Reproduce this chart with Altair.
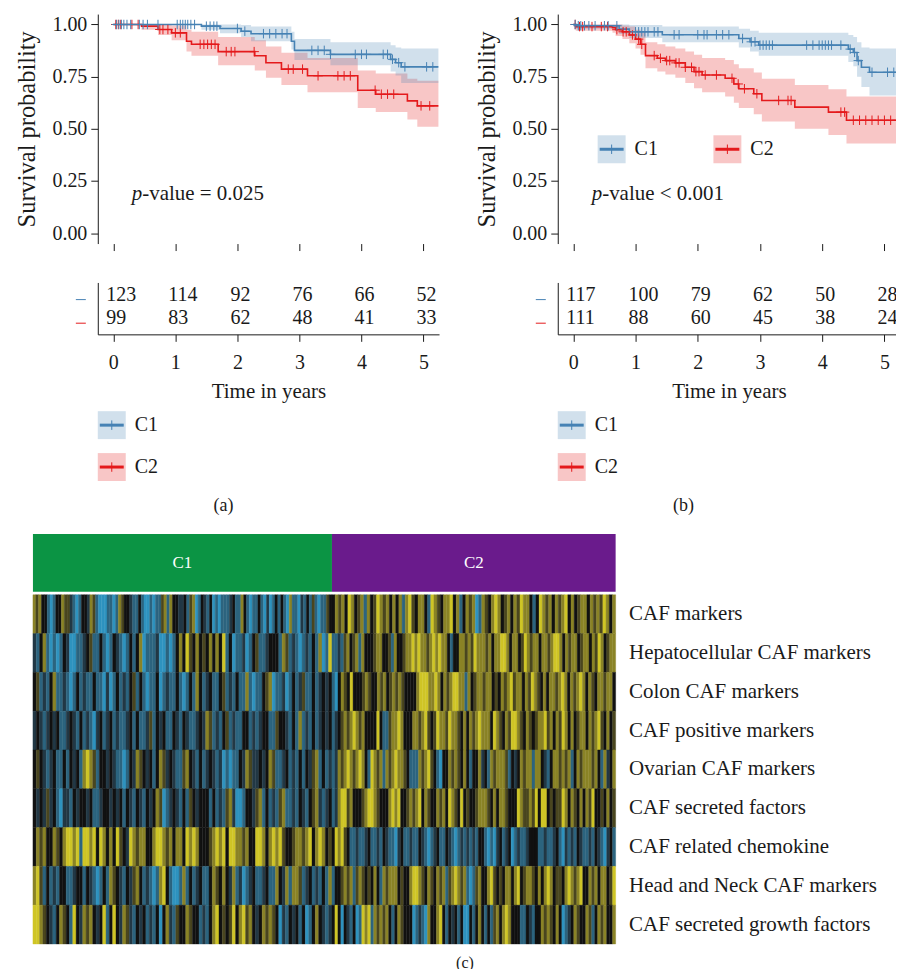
import altair as alt
import pandas as pd

FONT = "Liberation Serif"
INK = "#1a1a1a"
BLUE = "#4682B4"
RED = "#E41A1C"
GROUPS = ["C1", "C2"]
CROSS = "M-1,0L1,0M0,-1L0,1"

# ---------------- panel (a) ----------------
A_C1_T = [0, 1.42, 1.72, 2.06, 2.22, 2.87, 2.92, 3.50, 4.47, 4.55, 4.64]
A_C1_S = [1.0, 0.992, 0.981, 0.968, 0.956, 0.92, 0.876, 0.857, 0.833, 0.817, 0.797]
A_C1_LO = [1.0, 0.975, 0.958, 0.94, 0.92, 0.88, 0.83, 0.805, 0.775, 0.755, 0.72]
A_C1_HI = [1.0, 1.0, 1.0, 0.998, 0.99, 0.965, 0.93, 0.915, 0.90, 0.89, 0.885]
A_C1_CENS = [0.05, 0.09, 0.13, 0.17, 0.22, 0.28, 0.42, 0.48, 0.55, 0.72, 1.03, 1.08, 1.12,
             1.16, 1.2, 1.25, 1.31, 1.5, 1.56, 1.62, 1.67, 2.0, 2.12, 2.42, 2.52, 2.62, 2.72,
             2.8, 3.2, 3.3, 3.4, 3.5, 3.9, 4.0, 4.08, 4.35, 4.42, 4.5, 4.6, 4.7, 5.05, 5.15]
A_C2_T = [0, 0.455, 0.72, 0.94, 1.18, 1.26, 1.69, 2.28, 2.46, 2.71, 3.13, 3.94, 4.23, 4.74, 4.90]
A_C2_S = [1.0, 0.992, 0.976, 0.96, 0.92, 0.905, 0.87, 0.85, 0.817, 0.786, 0.754, 0.685, 0.666, 0.634, 0.61]
A_C2_LO = [1.0, 0.975, 0.95, 0.925, 0.87, 0.85, 0.805, 0.78, 0.745, 0.71, 0.675, 0.60, 0.58, 0.545, 0.51]
A_C2_HI = [1.0, 1.0, 1.0, 0.995, 0.975, 0.965, 0.94, 0.925, 0.895, 0.865, 0.84, 0.78, 0.765, 0.74, 0.73]
A_C2_CENS = [0.04, 0.08, 0.12, 0.3, 0.4, 0.75, 0.8, 0.88, 1.0, 1.08, 1.4, 1.46, 1.52, 1.58, 1.64,
             1.82, 1.9, 1.96, 2.27, 2.82, 2.9, 3.05, 3.3, 3.62, 3.72, 3.82, 4.22, 4.32, 4.42,
             4.52, 4.96, 5.1]
A_END = 5.24
A_PVAL = "-value = 0.025"
A_RISK_C1 = [123, 114, 92, 76, 66, 52]
A_RISK_C2 = [99, 83, 62, 48, 41, 33]

# ---------------- panel (b) ----------------
B_C1_T = [0, 0.04, 0.736, 0.9, 1.43, 2.66, 2.84, 2.98, 4.42, 4.5, 4.56, 4.63, 4.76]
B_C1_S = [1.0, 0.994, 0.978, 0.965, 0.951, 0.933, 0.917, 0.901, 0.882, 0.866, 0.827, 0.795, 0.771]
B_C1_LO = [1.0, 0.98, 0.955, 0.935, 0.915, 0.89, 0.87, 0.85, 0.82, 0.80, 0.75, 0.70, 0.66]
B_C1_HI = [1.0, 1.0, 1.0, 0.998, 0.99, 0.98, 0.97, 0.96, 0.95, 0.94, 0.915, 0.89, 0.885]
B_C1_CENS = [0.03, 0.08, 0.12, 0.18, 0.25, 0.35, 0.5, 0.56, 0.7, 1.0, 1.05, 1.1, 1.15, 1.2, 1.3,
             1.36, 1.62, 1.7, 2.0, 2.1, 2.15, 2.3, 2.4, 2.5, 2.72, 2.86, 2.92, 3.0, 3.05, 3.1,
             3.15, 3.2, 3.75, 3.85, 3.95, 4.0, 4.05, 4.1, 4.15, 4.3, 4.45, 4.52, 4.58, 4.8,
             5.05, 5.15]
B_C2_T = [0, 0.04, 0.63, 0.68, 0.79, 0.9, 1.0, 1.08, 1.16, 1.35, 1.48, 1.64, 1.8, 1.94, 2.07,
          2.44, 2.58, 2.66, 2.9, 3.03, 3.56, 4.1, 4.39, 5.22]
B_C2_S = [1.0, 0.99, 0.985, 0.975, 0.965, 0.95, 0.93, 0.905, 0.851, 0.838, 0.827, 0.816, 0.795,
          0.774, 0.758, 0.742, 0.715, 0.692, 0.668, 0.636, 0.604, 0.58, 0.541, 0.514]
B_C2_LO = [1.0, 0.97, 0.96, 0.945, 0.93, 0.91, 0.885, 0.855, 0.79, 0.775, 0.76, 0.745, 0.72,
           0.695, 0.675, 0.655, 0.625, 0.60, 0.57, 0.535, 0.50, 0.47, 0.43, 0.405]
B_C2_HI = [1.0, 1.0, 1.0, 1.0, 0.995, 0.99, 0.975, 0.96, 0.915, 0.905, 0.895, 0.885, 0.87,
           0.855, 0.84, 0.83, 0.81, 0.79, 0.77, 0.74, 0.71, 0.69, 0.655, 0.655]
B_C2_CENS = [0.03, 0.1, 0.15, 0.3, 0.45, 0.55, 0.7, 0.8, 0.85, 0.95, 1.05, 1.1, 1.3, 1.4, 1.5,
             1.55, 1.65, 1.7, 1.8, 1.9, 1.97, 2.02, 2.12, 2.3, 2.55, 2.65, 2.75, 2.95, 3.3,
             3.45, 3.5, 4.3, 4.36, 4.5, 4.6, 4.7, 4.8, 4.9, 5.0, 5.1, 5.2]
B_END = 5.25
B_PVAL = "-value < 0.001"
B_RISK_C1 = [117, 100, 79, 62, 50, 28]
B_RISK_C2 = [111, 88, 60, 45, 38, 24]

RISK_T = [0, 1, 2, 3, 4, 5]
Y_TICKS = [0, 0.25, 0.5, 0.75, 1.0]

# ---------------- heatmap (c) ----------------
ROWS = ["CAF markers", "Hepatocellular CAF markers", "Colon CAF markers",
        "CAF positive markers", "Ovarian CAF markers", "CAF secreted factors",
        "CAF related chemokine", "Head and Neck CAF markers", "CAF secreted growth factors"]
# B bright blue, b blue, d dark teal, k black, o dark olive, y olive, Y bright yellow
LEVELS = {"B": -3, "b": -2, "d": -1, "k": 0, "o": 1, "y": 2, "Y": 3}
HM_C1 = [
    "yoykk bBbkk yoodb Bbkkd yobBB BbbBb yokkd bbkbB BbBbb oybyk kddkb oyBbk dbkBb Bbbbd kbbyk bBbbk bBdBb kbkbB ybbBd bkbob Bbbok",
    "dbkyb BbBbk dBBbb dkobb kbBbk dbBbk bkyBb bbdBB bBbky kYoky kokyk ykYbk BbbdB bkobb dkkkb yobdb Bbdbk byBbY",
    "kobdb kybbd bBbkb dbbkb bBdBb kbdbk obkbB bbkBb dbbkb Bbkby kbdkb bkobd bkbby bBbbk oyBbb dBbkb dobbk bdkdk",
    "dkdbd kdkbb dkdbk bdbBd kbdkb dbbdk bkbbd obkdk bbkdb kdbbd kdyob dbkob dbbkk bdbdk kbbok kdbkb ybdbk bdkdk",
    "kokdb dkbbk bkdkb yYyob kkdkd bbBbk dyokd kbkyo dkdbb oykdb kbdkd bdBbB bbkdy oddkd kyobb dkbdb kbkdo ybkbd",
    "kdkdo dkbBd dbkdk kdkbb dkkdk dkbkd bkdbk dkyoB bdkdb kbokd kkkbk bdboy dBBbk kdoyb kbdbo ybbdb kdbko ydbdk",
    "kyoyk kyoky YYyYb YYyYk Yykyk YokdY yoyyk kyYYy oykyy kYyYy kkkoy YyYkY Yyyoy kkYYy kyYyY okkoy yoyYk yYyko",
    "yYobk bdbkk bbdkk bkdbB bkbyo kdbkd oykbd bBbyY kbBBb ybkbd kbbky okykd ybdBb dkbbd kbbyk dybyy obdkb dbkby",
    "YYyok dbkyo kbYkd yoykd kYbkY kdyod bkdkb dbkBk ydbok kyokk bdbky Ykoko YkyYo ykdky oyokB dbkdk bkBbk ykdbd",
]
HM_C2 = [
    "kyoyk Yykoy bykoY yoyky kybyY okyyk bYyok yyYky bkyoy Bbyok yYyko ykyoY yykbk Yyoyk yoyYk ykoyy kyoyo Yyky",
    "bbdbo ykoyb ykkko yykko bykko yyYyY yyoyY yYyyk bkkyy oyoYy yyoyk yyYYy kyyko Yyoyy kyyoy YYyky oyyko yykyo Yykoy y",
    "bBkyo kYkkk oyokk yoyko yoyok kkkyY YYyyY ykyoy YYyyb ykoyy oyyko kyoyY oyyky oYyok ykyyo yYyky oyYyk yokyy oyyk",
    "bdkoy oyYyo ykkkk Ykbbo yyYyk kkyyo yYoko YyyoY yyoky kyoyY yyykY yokyo YYyok yokoy yYoyk yoYyk ykoyy kyoyY okyko",
    "bdyoy YyoyY ykbYy oybyo yYyyo kbbby oyYok bBkky oyoky kbkky dkbyo yyyob kdkyo yybyy kdbky yoyoy bkyoy yyoyk bydky",
    "bdyYY oykkk oyYYy okkky YyYkk oyoyY kyokk yoykY yokYk okkoy yyoky kyyok kkYyo oyoYk YYkok ooYyk yokyk yoYkk okyko",
    "kYyYo kbbdb bdkbb dbkdb bBdkb bdbbk dbBbd kbbkd bBbdb dbdbk kbBbB dkbdk Bbdbb dkkkb bdbbd kbBdb dbkdb bdbkd bBdkb",
    "bkkoy oyboy okoky kbyoy yykok kyYYy okyok yoybo yYyoy bBboy kkyYo kokyy kyYko yyoky kyYyk ookyY yoyYk kyoyk yykoY",
    "kYkBk dbkBb YyYby oyoyk bkyok kkBbd bBykk yYkbk dkbkB Bkbky kbkbo ykyYy kkkbb kdbkk yoyok ykBbd kyokk yobky oykky",
]
ANNOT_GREEN = "#0B9444"
ANNOT_PURPLE = "#6A1B8C"
HM_COLORS = ["#2E93BF", "#111111", "#CFC526"]


def km_frame(T, S, LO, HI, end, g):
    rows = [dict(t=t, s=s, lo=lo, hi=hi, g=g) for t, s, lo, hi in zip(T, S, LO, HI)]
    rows.append(dict(t=end, s=S[-1], lo=LO[-1], hi=HI[-1], g=g))
    return pd.DataFrame(rows)


def cens_frame(T, S, C, g):
    out = []
    for c in C:
        i = max(j for j, t in enumerate(T) if t <= c)
        out.append(dict(t=c, s=S[i], g=g))
    return pd.DataFrame(out)


XS = alt.Scale(domain=[-0.25, 5.25], nice=False, zero=False)
YS = alt.Scale(domain=[-0.05, 1.05], nice=False, zero=False)
CS = alt.Scale(domain=GROUPS, range=[BLUE, RED])


def legend_item(label, color, x0, y0):
    base = alt.Chart(pd.DataFrame({"g": [label]}))
    return [
        base.mark_rect(color=color, opacity=0.25).encode(
            x=alt.value(x0), x2=alt.value(x0 + 28), y=alt.value(y0), y2=alt.value(y0 + 28)),
        base.mark_rule(color=color, strokeWidth=3).encode(
            x=alt.value(x0 + 2), x2=alt.value(x0 + 26), y=alt.value(y0 + 14)),
        base.mark_point(shape=CROSS, size=90, filled=False, color=color, strokeWidth=1,
                        opacity=1).encode(x=alt.value(x0 + 14), y=alt.value(y0 + 14)),
        base.mark_text(align="left", baseline="middle", font=FONT, fontSize=20, color=INK).encode(
            x=alt.value(x0 + 37), y=alt.value(y0 + 14), text="g:N"),
    ]


def surv_chart(km, cens, pval, width, inside_legend):
    x = alt.X("t:Q", scale=XS, axis=alt.Axis(values=RISK_T, labels=False, tickSize=7,
                                             domain=False, title=None))
    yaxis = alt.Axis(values=Y_TICKS, format=".2f", title="Survival probability",
                     titleFontSize=24.5, labelFontSize=20, tickSize=7, labelPadding=4,
                     titlePadding=12)
    col = alt.Color("g:N", scale=CS, legend=None)
    band = alt.Chart(km).mark_area(interpolate="step-after", opacity=0.25).encode(
        x=x, y=alt.Y("lo:Q", scale=YS, axis=yaxis), y2="hi:Q", color=col)
    line = alt.Chart(km).mark_line(interpolate="step-after", strokeWidth=1.6).encode(
        x=x, y=alt.Y("s:Q", scale=YS), color=col)
    marks = alt.Chart(cens).mark_point(shape=CROSS, size=90, filled=False, strokeWidth=1,
                                       opacity=1).encode(
        x=x, y=alt.Y("s:Q", scale=YS), color=col)
    pd_p = pd.DataFrame({"p": ["p"], "rest": [pval]})
    p1 = alt.Chart(pd_p).mark_text(align="left", baseline="middle", font=FONT, fontSize=21,
                                   fontStyle="italic", color=INK).encode(
        x=alt.value(34), y=alt.value(180), text="p:N")
    p2 = alt.Chart(pd_p).mark_text(align="left", baseline="middle", font=FONT, fontSize=21,
                                   color=INK).encode(
        x=alt.value(44.5), y=alt.value(180), text="rest:N")
    layers = [band, line, marks, p1, p2]
    if inside_legend:
        layers += legend_item("C1", BLUE, 40, 121.5)
        layers += legend_item("C2", RED, 156, 121.5)
    return alt.layer(*layers).properties(width=width, height=230)


def risk_chart(r1, r2, width, tag):
    df = pd.DataFrame([dict(g="C1", t=t, n=n) for t, n in zip(RISK_T, r1)] +
                      [dict(g="C2", t=t, n=n) for t, n in zip(RISK_T, r2)])
    x = alt.X("t:Q", scale=XS, axis=alt.Axis(values=RISK_T, format="d", tickSize=7,
                                             labelFontSize=20, labelPadding=11,
                                             title="Time in years", titleFontSize=21,
                                             titlePadding=8))
    y = alt.Y("g:N", scale=alt.Scale(type="point", padding=0.6, domain=GROUPS),
              axis=alt.Axis(labels=False, ticks=False, title=None, domain=True))
    txt = alt.Chart(df).mark_text(align="left", baseline="middle", dx=-7, dy=-2, font=FONT,
                                  fontSize=20, color=INK).encode(x=x, y=y, text="n:Q")
    gdf = pd.DataFrame({"g": GROUPS})
    dash = alt.Chart(gdf).mark_rule(strokeWidth=1, yOffset=3).encode(
        x=alt.value(-22), x2=alt.value(-12), y=y,
        color=alt.Color("g:N", scale=CS, legend=None))
    layers = [txt, dash]
    layers += legend_item("C1", BLUE, 0, 129)
    layers += legend_item("C2", RED, 0, 171)
    lab = alt.Chart(pd.DataFrame({"tag": [tag]})).mark_text(
        align="center", baseline="middle", font=FONT, fontSize=18, color=INK).encode(
        x=alt.value(126), y=alt.value(224), text="tag:N")
    layers.append(lab)
    return alt.layer(*layers).properties(width=width, height=52)


def spacer():
    return alt.Chart(pd.DataFrame({"a": [0]})).mark_rect(opacity=0).encode(
        x=alt.value(0), x2=alt.value(1), y=alt.value(0), y2=alt.value(1)
    ).properties(width=1, height=1)


km_a = pd.concat([km_frame(A_C2_T, A_C2_S, A_C2_LO, A_C2_HI, A_END, "C2"),
                  km_frame(A_C1_T, A_C1_S, A_C1_LO, A_C1_HI, A_END, "C1")])
cens_a = pd.concat([cens_frame(A_C2_T, A_C2_S, A_C2_CENS, "C2"),
                    cens_frame(A_C1_T, A_C1_S, A_C1_CENS, "C1")])
km_b = pd.concat([km_frame(B_C2_T, B_C2_S, B_C2_LO, B_C2_HI, B_END, "C2"),
                  km_frame(B_C1_T, B_C1_S, B_C1_LO, B_C1_HI, B_END, "C1")])
cens_b = pd.concat([cens_frame(B_C2_T, B_C2_S, B_C2_CENS, "C2"),
                    cens_frame(B_C1_T, B_C1_S, B_C1_CENS, "C1")])

col_a = alt.vconcat(surv_chart(km_a, cens_a, A_PVAL, 342, False),
                    risk_chart(A_RISK_C1, A_RISK_C2, 342, "(a)"), spacing=31)
col_b = alt.vconcat(surv_chart(km_b, cens_b, B_PVAL, 343, True),
                    risk_chart(B_RISK_C1, B_RISK_C2, 343, "(b)"), spacing=31)
row1 = alt.hconcat(spacer(), alt.hconcat(col_a, col_b, spacing=33), spacing=1)

# heatmap data
N1, N2 = B_RISK_C1[0], B_RISK_C2[0]
NT = N1 + N2
cells = []
for name, s1, s2 in zip(ROWS, HM_C1, HM_C2):
    a = s1.replace(" ", "")
    b = s2.replace(" ", "")
    for i, ch in enumerate(a):
        cells.append(dict(row=name, x0=i * N1 / len(a), x1=(i + 1) * N1 / len(a), v=LEVELS[ch]))
    for i, ch in enumerate(b):
        cells.append(dict(row=name, x0=N1 + i * N2 / len(b), x1=N1 + (i + 1) * N2 / len(b),
                          v=LEVELS[ch]))
hm = pd.DataFrame(cells)
HX = alt.Scale(domain=[0, NT], nice=False, zero=False)
vscale = alt.Scale(domain=[-3, 0, 3], range=HM_COLORS)
heat_rect = alt.Chart(hm).mark_rect(strokeWidth=0.4).encode(
    x=alt.X("x0:Q", scale=HX, axis=None), x2="x1:Q",
    y=alt.Y("row:N", sort=ROWS, scale=alt.Scale(paddingInner=0, paddingOuter=0),
            axis=alt.Axis(orient="right", labelFont=FONT, labelFontSize=21, ticks=False,
                          domain=False, labelPadding=13, title=None, labelLimit=400)),
    color=alt.Color("v:Q", scale=vscale, legend=None),
    stroke=alt.Stroke("v:Q", scale=vscale, legend=None))
ctag = alt.Chart(pd.DataFrame({"tag": ["(c)"]})).mark_text(
    align="center", baseline="middle", font=FONT, fontSize=16, color=INK).encode(
    x=alt.value(433), y=alt.value(369), text="tag:N")
heat = alt.layer(heat_rect, ctag).properties(width=584, height=350)

ann = pd.DataFrame({"g": GROUPS, "start": [0, N1], "end": [N1, NT]})
ann_rect = alt.Chart(ann).mark_rect().encode(
    x=alt.X("start:Q", scale=HX, axis=None), x2="end:Q",
    color=alt.Color("g:N", scale=alt.Scale(domain=GROUPS, range=[ANNOT_GREEN, ANNOT_PURPLE]),
                    legend=None))
ann_txt = alt.Chart(ann).transform_calculate(mid="(datum.start + datum.end) / 2").mark_text(
    font=FONT, fontSize=17, color="white", baseline="middle").encode(
    x=alt.X("mid:Q", scale=HX, axis=None), y=alt.value(29), text="g:N")
annot = alt.layer(ann_rect, ann_txt).properties(width=584, height=58)

heat_block = alt.hconcat(spacer(), alt.vconcat(annot, heat, spacing=2), spacing=18)

chart = alt.vconcat(row1, heat_block, spacing=19).properties(
    padding={"left": 5, "top": 5, "right": -8, "bottom": -3}
).configure_view(stroke=None).configure_axis(
    labelFont=FONT, titleFont=FONT, labelColor=INK, titleColor=INK, tickColor=INK,
    domainColor=INK, titleFontWeight="normal", grid=False, domainWidth=1, tickWidth=1
)

chart.save("out.html", embed_options={"renderer": "svg", "actions": False})
